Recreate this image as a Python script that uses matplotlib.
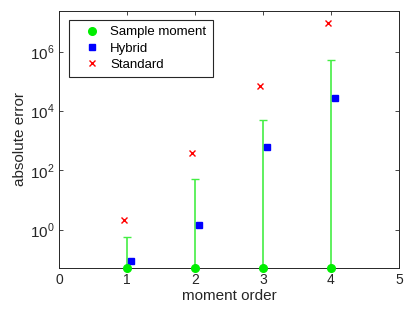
import matplotlib
matplotlib.use('Agg')
import matplotlib.pyplot as plt
from matplotlib.ticker import FixedLocator, NullLocator

plt.rcParams['font.family'] = ['Liberation Sans', 'DejaVu Sans']
plt.rcParams['mathtext.fontset'] = 'custom'
plt.rcParams['mathtext.rm'] = 'Liberation Sans'

order = [1, 2, 3, 4]
ymin = 0.052
sample_err = [ymin, ymin, ymin, ymin]
sample_upper = [0.55, 50, 5200, 5.2e5]
hybrid_err = [0.09, 1.48, 610, 2.7e4]
standard_err = [2.1, 400, 7e4, 9.6e6]

fig = plt.figure(figsize=(4.15, 3.12), dpi=100)
ax = fig.add_axes([0.143, 0.142, 0.818, 0.824])

lower = [s - 1e-12 for s in sample_err]
upper = [u - s for u, s in zip(sample_upper, sample_err)]
ax.errorbar(order, sample_err, yerr=[lower, upper], fmt='none',
            ecolor='#44ee44', elinewidth=1.2, capsize=3, capthick=1.0)
ax.plot(order, sample_err, 'o', color='#00ee00', markersize=5.5,
        clip_on=False, zorder=5, label='Sample moment')
ax.plot([o + 0.055 for o in order], hybrid_err, 's', color='#0000ff',
        markersize=4.5, label='Hybrid')
ax.plot([o - 0.05 for o in order], standard_err, 'x', color='#ff0000',
        markersize=5, markeredgewidth=1.0, label='Standard')

ax.set_yscale('log')
ax.set_xlim(0, 5)
ax.set_ylim(ymin, 2.5e7)
ax.set_xticks([0, 1, 2, 3, 4, 5])
ax.yaxis.set_major_locator(FixedLocator([1, 1e2, 1e4, 1e6]))
ax.yaxis.set_minor_locator(NullLocator())
ax.set_yticklabels(['$10^0$', '$10^2$', '$10^4$', '$10^6$'])
ax.tick_params(direction='in', top=True, right=True, length=3,
               labelsize=10, colors='#262626', width=0.6)
ax.tick_params(axis='y', labelsize=11)
for s in ax.spines.values():
    s.set_color('#262626')
    s.set_linewidth(0.7)

ax.set_xlabel('moment order', fontsize=11, color='#262626', labelpad=2)
ax.set_ylabel('absolute error', fontsize=11, color='#262626', labelpad=2)

leg = ax.legend(loc='upper left', bbox_to_anchor=(0.028, 0.965),
                fontsize=9.5, fancybox=False, edgecolor='#262626',
                framealpha=1, borderpad=0.5, handletextpad=0.12,
                labelspacing=0.3, borderaxespad=0, handlelength=2.5)
leg.get_frame().set_linewidth(0.8)

fig.savefig('out.png', dpi=100)
